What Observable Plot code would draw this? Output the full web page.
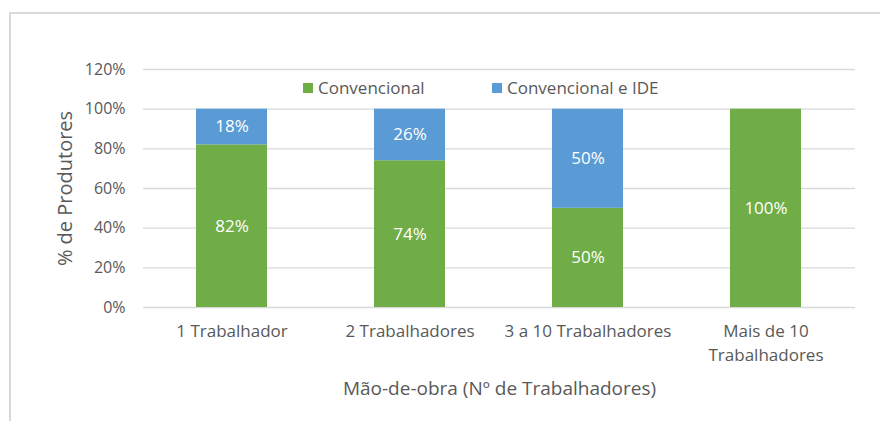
<!DOCTYPE html>
<html>
<head>
<meta charset="utf-8">
<script src="https://cdn.jsdelivr.net/npm/d3@7"></script>
<script src="https://cdn.jsdelivr.net/npm/@observablehq/plot@0.6"></script>
<style>
  body { margin: 0; background: #fff; }
  #wrap { position: relative; width: 880px; height: 421px; overflow: hidden; font-family: "Open Sans", sans-serif; }
  #frame { position: absolute; left: 9px; top: 12px; width: 900px; height: 500px; border: 2px solid #d9d9d9; box-sizing: border-box; }
  .leg { position: absolute; top: 76px; font-size: 17px; color: #595959; display: flex; align-items: center; white-space: nowrap; }
  .sw { display: inline-block; width: 10px; height: 10px; margin-right: 5px; }
  #chart { position: absolute; left: 0; top: 0; }
</style>
</head>
<body>
<div id="wrap">
  <div id="frame"></div>
  <div id="chart"></div>
  <div id="legend"></div>
</div>
<script>
const categories = ["1 Trabalhador", "2 Trabalhadores", "3 a 10 Trabalhadores", "Mais de 10 Trabalhadores"];
const tickLabels = ["1 Trabalhador", "2 Trabalhadores", "3 a 10 Trabalhadores", "Mais de 10\nTrabalhadores"];
const seriesNames = ["Convencional", "Convencional e IDE"];
const seriesColors = ["#70AD47", "#5B9BD5"];
const convencional = [0.82, 0.74, 0.50, 1.00];
const convencionalIDE = [0.18, 0.26, 0.50, 0.00];
const yTicks = [0, 0.2, 0.4, 0.6, 0.8, 1.0, 1.2];
const xTitle = "Mão-de-obra (Nº de Trabalhadores)";
const yTitle = "% de Produtores";

const data = [];
categories.forEach((c, i) => {
  data.push({cat: c, series: seriesNames[0], value: convencional[i]});
  data.push({cat: c, series: seriesNames[1], value: convencionalIDE[i]});
});
const labelMap = new Map(categories.map((c, i) => [c, tickLabels[i]]));

const chart = Plot.plot({
  width: 880,
  height: 421,
  marginLeft: 143,
  marginRight: 25,
  marginTop: 69,
  marginBottom: 114,
  style: {fontFamily: "'Open Sans', sans-serif", fontSize: "16px", color: "#595959", background: "transparent"},
  x: {domain: categories, paddingInner: 0.6, paddingOuter: 0.3, label: null},
  y: {domain: [0, 1.2], label: null},
  color: {domain: seriesNames, range: seriesColors},
  marks: [
    Plot.gridY(yTicks, {stroke: "#d9d9d9", strokeOpacity: 1, strokeWidth: 1.3}),
    Plot.barY(data, {x: "cat", y: "value", fill: "series", z: "series", order: seriesNames}),
    Plot.text(data.filter(d => d.value > 0), Plot.stackY({x: "cat", y: "value", z: "series", order: seriesNames, text: d => d3.format(".0%")(d.value), fill: "white", fontSize: 17})),
    Plot.axisY({ticks: yTicks, tickFormat: d3.format(".0%"), tickSize: 0, tickPadding: 18, fontSize: 16, label: null}),
    Plot.axisX({tickSize: 0, tickPadding: 13, tickFormat: d => labelMap.get(d), fontSize: 17, lineHeight: 1.4, label: null}),
    Plot.text([yTitle], {frameAnchor: "left", textAnchor: "middle", lineAnchor: "middle", rotate: -90, dx: -78, fontSize: 20, fill: "#595959", text: d => d}),
    Plot.text([xTitle], {frameAnchor: "bottom", lineAnchor: "middle", dy: 81, fontSize: 19, fill: "#595959", text: d => d})
  ]
});
document.getElementById("chart").appendChild(chart);

const legend = document.getElementById("legend");
const legX = [303, 492];
seriesNames.forEach((s, i) => {
  const el = document.createElement("div");
  el.className = "leg";
  el.style.left = legX[i] + "px";
  el.innerHTML = `<span class="sw" style="background:${seriesColors[i]}"></span>${s}`;
  legend.appendChild(el);
});
</script>
</body>
</html>
